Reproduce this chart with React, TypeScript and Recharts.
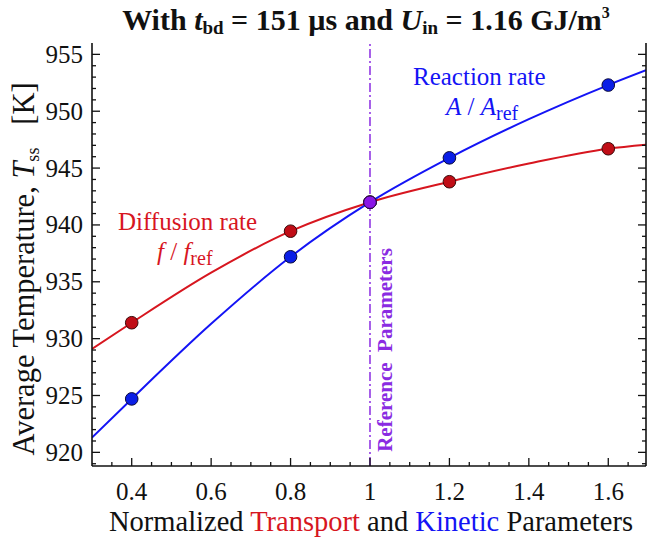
import React from 'react';
import { ComposedChart, Line, XAxis, YAxis, ReferenceLine, ReferenceDot } from 'recharts';

// measured parameter values (normalized)
const xParams = [0.4, 0.8, 1.0, 1.2, 1.6];
const diffusionT = [931.4, 939.45, 942, 943.8, 946.7];
const reactionT = [924.7, 937.2, 942, 945.9, 952.3];

// fitted curves
const curveX = [0.3, 0.4, 0.6, 0.8, 1.0, 1.2, 1.4, 1.6, 1.695];
const diffusionCurveT = [929.1, 931.4, 935.8, 939.45, 942, 943.8, 945.4, 946.7, 947.05];
const reactionCurveT = [921.3, 924.7, 931.3, 937.2, 942, 945.9, 949.3, 952.3, 953.6];

const referencePoint = { x: 1.0, t: 942 };

const xMajorTicks = [0.4, 0.6, 0.8, 1.0, 1.2, 1.4, 1.6];
const yMajorTicks = [920, 925, 930, 935, 940, 945, 950, 955];

const xAllTicks: number[] = [];
for (let i = 7; i <= 33; i++) xAllTicks.push(+(i * 0.05).toFixed(2));
const yAllTicks: number[] = [];
for (let v = 919; v <= 955; v++) yAllTicks.push(v);

const X_DOMAIN: [number, number] = [0.3, 1.695];
const Y_DOMAIN: [number, number] = [918.8, 956];

const FONT = "'Liberation Serif', 'DejaVu Serif', serif";
const RED = '#d7161f';
const BLUE = '#1414f5';
const PURPLE = '#8a2be2';
const INK = '#111';

const diffusionCurve = curveX.map((x, i) => ({ x, t: diffusionCurveT[i] }));
const reactionCurve = curveX.map((x, i) => ({ x, t: reactionCurveT[i] }));
const diffusionPts = xParams.map((x, i) => ({ x, t: diffusionT[i] }));
const reactionPts = xParams.map((x, i) => ({ x, t: reactionT[i] }));

const isMajorX = (v: number) => xMajorTicks.some((m) => Math.abs(m - v) < 1e-6);
const isMajorY = (v: number) => yMajorTicks.includes(v);

const txt = { fontFamily: FONT };

const BottomTick = ({ x, y, payload }: any) => {
  const major = isMajorX(payload.value);
  return (
    <g>
      <line x1={x} x2={x} y1={y} y2={y - (major ? 8 : 4)} stroke={INK} strokeWidth={1.3} />
      {major && (
        <text x={x} y={y + 34} textAnchor="middle" style={txt} fontSize={25} fill={INK}>
          {String(Number(payload.value.toFixed(2)))}
        </text>
      )}
    </g>
  );
};

const TopTick = ({ x, y, payload }: any) => {
  const major = isMajorX(payload.value);
  return <line x1={x} x2={x} y1={y} y2={y + (major ? 8 : 4)} stroke={INK} strokeWidth={1.3} />;
};

const LeftTick = ({ x, y, payload }: any) => {
  const major = isMajorY(payload.value);
  return (
    <g>
      <line x1={x} x2={x + (major ? 8 : 4)} y1={y} y2={y} stroke={INK} strokeWidth={1.3} />
      {major && (
        <text x={x - 9} y={y + 8.5} textAnchor="end" style={txt} fontSize={25} fill={INK}>
          {payload.value}
        </text>
      )}
    </g>
  );
};

const RightTick = ({ x, y, payload }: any) => {
  const major = isMajorY(payload.value);
  return <line x1={x} x2={x - (major ? 8 : 4)} y1={y} y2={y} stroke={INK} strokeWidth={1.3} />;
};

const axisLine = { stroke: INK, strokeWidth: 1.6 };

export default function App() {
  return (
    <div style={{ position: 'absolute', left: 0, top: 0, width: 647, height: 539, background: '#fff', fontFamily: FONT }}>
      <ComposedChart width={647} height={539} margin={{ top: 43, right: 0, bottom: 0, left: 0 }}>
        <XAxis
          dataKey="x"
          type="number"
          domain={X_DOMAIN}
          allowDataOverflow
          ticks={xAllTicks}
          interval={0}
          tickSize={0}
          tickMargin={0}
          tickLine={false}
          tick={<BottomTick />}
          axisLine={axisLine}
          height={73}
        />
        <XAxis
          xAxisId="top"
          orientation="top"
          dataKey="x"
          type="number"
          domain={X_DOMAIN}
          allowDataOverflow
          ticks={xAllTicks}
          interval={0}
          tickSize={0}
          tickMargin={0}
          tickLine={false}
          tick={<TopTick />}
          axisLine={axisLine}
          height={0}
        />
        <YAxis
          type="number"
          domain={Y_DOMAIN}
          allowDataOverflow
          ticks={yAllTicks}
          interval={0}
          tickSize={0}
          tickMargin={0}
          tickLine={false}
          tick={<LeftTick />}
          axisLine={axisLine}
          width={92}
        />
        <YAxis
          yAxisId="right"
          orientation="right"
          type="number"
          domain={Y_DOMAIN}
          allowDataOverflow
          ticks={yAllTicks}
          interval={0}
          tickSize={0}
          tickMargin={0}
          tickLine={false}
          tick={<RightTick />}
          axisLine={axisLine}
          width={1}
        />
        <ReferenceLine x={referencePoint.x} stroke={PURPLE} strokeWidth={1.5} strokeDasharray="9 3 2 3" />
        <Line data={diffusionCurve} dataKey="t" type="monotone" stroke={RED} strokeWidth={2} dot={false} isAnimationActive={false} />
        <Line data={reactionCurve} dataKey="t" type="monotone" stroke={BLUE} strokeWidth={2} dot={false} isAnimationActive={false} />
        <Line
          data={diffusionPts}
          dataKey="t"
          stroke="none"
          dot={{ r: 6.3, fill: '#c00d16', stroke: '#3a0a0a', strokeWidth: 1 }}
          isAnimationActive={false}
        />
        <Line
          data={reactionPts}
          dataKey="t"
          stroke="none"
          dot={{ r: 6.3, fill: '#0a1ee6', stroke: '#0a0a3a', strokeWidth: 1 }}
          isAnimationActive={false}
        />
        <ReferenceDot x={referencePoint.x} y={referencePoint.t} r={6.3} fill="#8a16e6" stroke="#2a0a3a" strokeWidth={1} />
      </ComposedChart>

      <svg
        width={647}
        height={539}
        style={{ position: 'absolute', left: 0, top: 0, pointerEvents: 'none', fontFamily: FONT }}
      >
        <text x={366} y={30} textAnchor="middle" fontSize={30} fontWeight="bold" fill={INK} style={{ ...txt, whiteSpace: 'pre' }}>
          With <tspan fontStyle="italic">t</tspan>
          <tspan fontSize={19} dy={4}>bd</tspan>
          <tspan dy={-4}> = 151 µs and </tspan>
          <tspan fontStyle="italic">U</tspan>
          <tspan fontSize={19} dy={4}>in</tspan>
          <tspan dy={-4}> = 1.16 GJ/m</tspan>
          <tspan fontSize={16} dy={-12}>3</tspan>
        </text>

        <text x={371} y={531} textAnchor="middle" style={txt} fontSize={28.5} fill={INK}>
          Normalized <tspan fill={RED}>Transport</tspan> and <tspan fill={BLUE}>Kinetic</tspan> Parameters
        </text>

        <text transform="translate(34, 269) rotate(-90)" textAnchor="middle" fontSize={30.5} fill={INK} style={{ ...txt, whiteSpace: 'pre' }}>
          Average Temperature, <tspan fontStyle="italic">T</tspan>
          <tspan fontSize={18} dy={5}>ss</tspan>
          <tspan dy={-5}>   [K]</tspan>
        </text>

        <text x={118} y={230} style={txt} fontSize={25} fill={RED}>Diffusion rate</text>
        <text x={157} y={260} fontSize={25} fill={RED} style={{ ...txt, whiteSpace: 'pre' }}>
          <tspan fontStyle="italic">f</tspan> / <tspan fontStyle="italic">f</tspan>
          <tspan fontSize={20} dy={5}>ref</tspan>
        </text>

        <text x={413} y={85} style={txt} fontSize={25} fill={BLUE}>Reaction rate</text>
        <text x={446} y={115} fontSize={25} fill={BLUE} style={{ ...txt, whiteSpace: 'pre' }}>
          <tspan fontStyle="italic">A</tspan> / <tspan fontStyle="italic">A</tspan>
          <tspan fontSize={20} dy={5}>ref</tspan>
        </text>

        <text
          transform="translate(392, 350) rotate(-90)"
          textAnchor="middle"
          fontSize={21}
          fontWeight="bold"
          fill={PURPLE}
          style={{ ...txt, whiteSpace: 'pre' }}
        >
          Reference  Parameters
        </text>
      </svg>
    </div>
  );
}
